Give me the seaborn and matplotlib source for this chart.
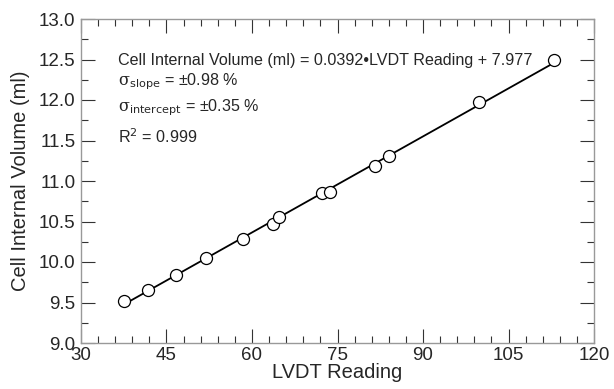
import numpy as np
import pandas as pd
import matplotlib
matplotlib.use("Agg")
import matplotlib.pyplot as plt
import seaborn as sns

# Data
lvdt = [37.6, 41.7, 46.6, 52.0, 58.4, 63.6, 64.7, 72.2, 73.6, 81.6, 84.0, 99.8, 113.0]
volume = [9.52, 9.66, 9.84, 10.05, 10.29, 10.47, 10.55, 10.85, 10.86, 11.18, 11.31, 11.97, 12.49]
x_ticks = [30, 45, 60, 75, 90, 105, 120]
y_ticks = [9.0, 9.5, 10.0, 10.5, 11.0, 11.5, 12.0, 12.5, 13.0]
eq_text = "Cell Internal Volume (ml) = 0.0392\u2022LVDT Reading + 7.977"
stat_texts = [r"$\mathrm{\sigma}_{\mathsf{slope}}$" + " = \u00b10.98 %",
              r"$\mathrm{\sigma}_{\mathsf{intercept}}$" + " = \u00b10.35 %",
              r"R$^\mathsf{2}$" + " = 0.999"]

df = pd.DataFrame({"LVDT Reading": lvdt, "Cell Internal Volume (ml)": volume})

sns.set_theme(style="white")
plt.rcParams["font.family"] = ["Liberation Sans", "DejaVu Sans"]
plt.rcParams["mathtext.fontset"] = "dejavuserif"

fig = plt.figure(figsize=(6.14, 3.89), dpi=100)
ax = fig.add_axes([81 / 614, 1 - 343 / 389, (594 - 81) / 614, (343 - 19) / 389])

sns.regplot(data=df, x="LVDT Reading", y="Cell Internal Volume (ml)", ax=ax,
            scatter=False, ci=None, truncate=True,
            line_kws=dict(color="black", lw=1.3))
sns.scatterplot(data=df, x="LVDT Reading", y="Cell Internal Volume (ml)", ax=ax,
                s=75, color="white", edgecolor="black", linewidth=0.9, zorder=3)

ax.set_xlim(30, 120)
ax.set_ylim(9.0, 13.0)
ax.set_xticks(x_ticks)
ax.set_xticklabels([str(t) for t in x_ticks])
ax.set_yticks(y_ticks)
ax.set_yticklabels([f"{t:.1f}" for t in y_ticks])
ax.set_xticks(np.arange(30, 121, 3), minor=True)
ax.set_yticks(np.arange(9.0, 13.01, 0.25), minor=True)
ax.tick_params(which="both", direction="in", top=True, right=True, bottom=True, left=True,
               color="#333333", labelsize=13.5)
ax.tick_params(axis="y", pad=4)
ax.tick_params(axis="x", pad=3)
ax.tick_params(which="major", length=10, width=0.8)
ax.tick_params(which="minor", length=5, width=0.8)
for s in ax.spines.values():
    s.set_color("#999999")
    s.set_linewidth(1.0)

ax.set_xlabel("LVDT Reading", fontsize=14.5, labelpad=-1)
ax.set_ylabel("Cell Internal Volume (ml)", fontsize=14.5, labelpad=6)

ax.text(0.072, 0.873, eq_text, transform=ax.transAxes, fontsize=11.6, va="center", ha="left")
ys = [0.806, 0.725, 0.636]
for t, y in zip(stat_texts, ys):
    ax.text(0.072, y, t, transform=ax.transAxes, fontsize=11.6, va="center", ha="left")

fig.savefig("out.png", dpi=100, facecolor="white")
